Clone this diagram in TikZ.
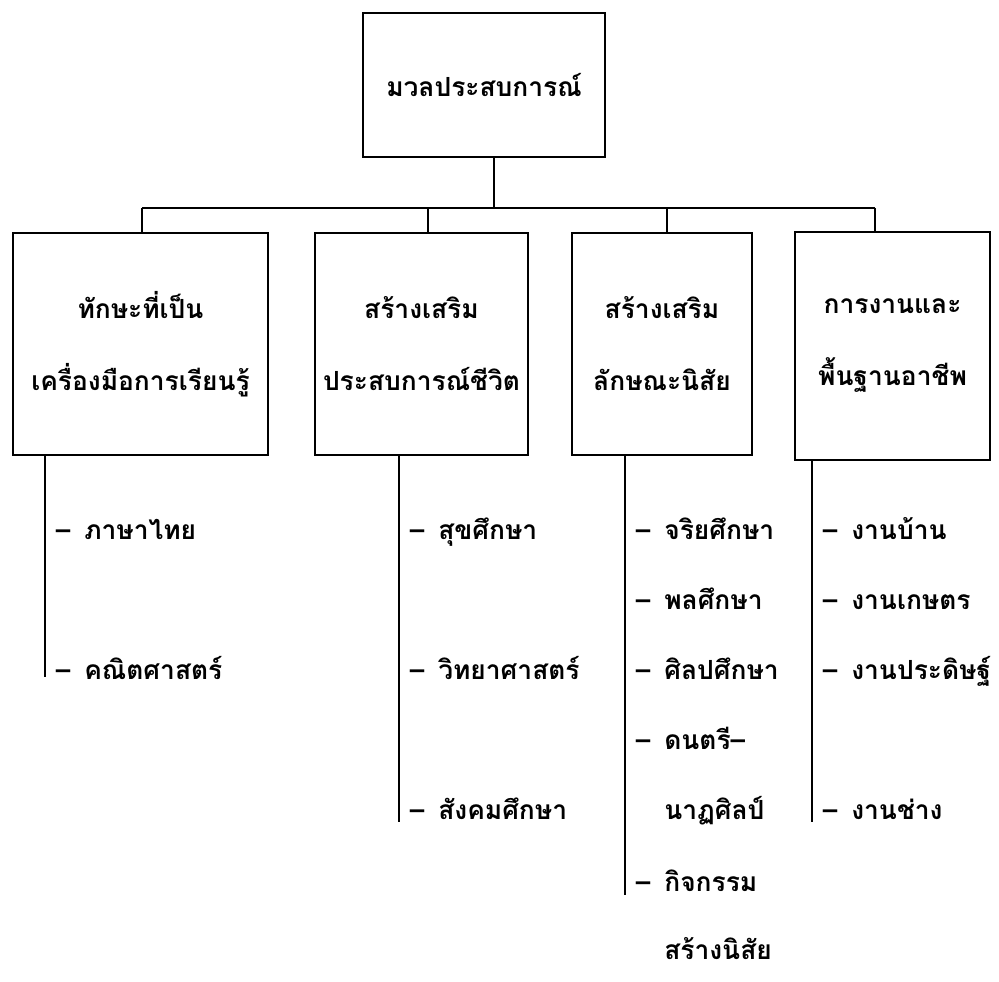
\documentclass[tikz,border=0pt]{standalone}
\usepackage{fontspec}
\newfontfamily\thaifont[Script=Thai]{Loma}
\newcommand{\thaitext}{\thaifont\bfseries\fontsize{15}{41}\selectfont}
\usetikzlibrary{positioning}

\begin{document}
\begin{tikzpicture}[x=0.02cm, y=-0.02cm, line width=0.9pt,
  every node/.style={font=\thaitext},
  box/.style 2 args={draw, minimum width=#1, minimum height=#2, align=center, inner sep=0pt},
  subj/.style={anchor=base west, inner sep=0pt}]
\useasboundingbox (0,0) rectangle (999,982);

% top box and the four groups
\node[box={4.84cm}{2.88cm}] (top) at (484,85) {มวลประสบการณ์};
\node[box={5.10cm}{4.44cm}] (b1) at (140.5,344) {ทักษะที่เป็น\\เครื่องมือการเรียนรู้};
\node[box={4.26cm}{4.44cm}] (b2) at (421.5,344) {สร้างเสริม\\ประสบการณ์ชีวิต};
\node[box={3.60cm}{4.44cm}] (b3) at (662,344) {สร้างเสริม\\ลักษณะนิสัย};
\node[box={3.90cm}{4.56cm}] (b4) at (892.5,346) {การงานและ\\พื้นฐานอาชีพ};

% tree lines
\coordinate (bus) at (494,208);
\coordinate (d1) at (142,208);
\coordinate (d2) at (428,208);
\coordinate (d3) at (667,208);
\coordinate (d4) at (875,208);
\draw (top.south -| bus) -- (bus);
\draw (d1) -- (d4);
\foreach \i in {1,...,4} \draw (d\i) -- (d\i |- b\i.north);

% subject lines under each group
\coordinate (e1) at (45,677);
\coordinate (e2) at (399,822);
\coordinate (e3) at (625,895);
\coordinate (e4) at (812,822);
\foreach \i in {1,...,4} \draw (e\i |- b\i.south) -- (e\i);

\foreach \y/\t in {530/ภาษาไทย, 670/คณิตศาสตร์}
  \node[subj] (s1-\y) at (55,\y+9) {–\hspace{8pt}\t};
\foreach \y/\t in {530/สุขศึกษา, 670/วิทยาศาสตร์, 810/สังคมศึกษา}
  \node[subj] (s2-\y) at (409,\y+9) {–\hspace{8pt}\t};
\foreach \y/\t in {530/จริยศึกษา, 600/พลศึกษา, 670/ศิลปศึกษา, 740/ดนตรี–, 882/กิจกรรม}
  \node[subj] (s3-\y) at (635,\y+9) {–\hspace{8pt}\t};
\node[subj] (s3-810) at (635,819) {\phantom{–}\hspace{8pt}นาฏศิลป์};
\node[subj] (s3-950) at (635,959) {\phantom{–}\hspace{8pt}สร้างนิสัย};
\foreach \y/\t in {530/งานบ้าน, 600/งานเกษตร, 670/งานประดิษฐ์, 810/งานช่าง}
  \node[subj] (s4-\y) at (822,\y+9) {–\hspace{8pt}\t};
\end{tikzpicture}
\end{document}
